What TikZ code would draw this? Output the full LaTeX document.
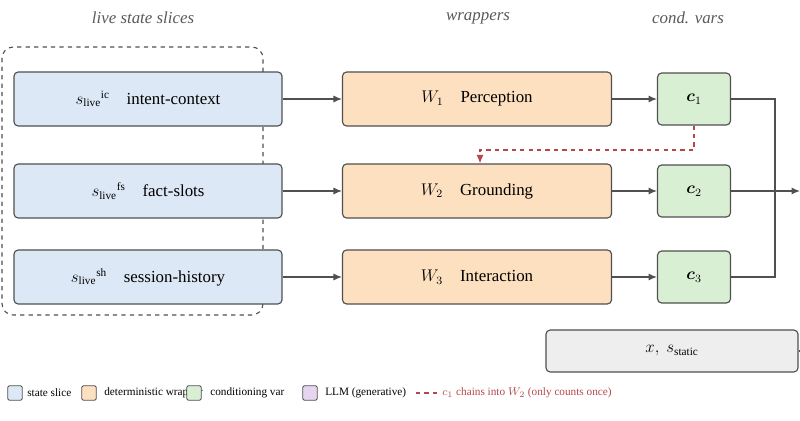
\documentclass[tikz,border=0pt]{standalone}
\usepackage{amsmath,bm}
\usepackage{fontspec}
\setmainfont{Liberation Serif}
\usetikzlibrary{arrows.meta}
\definecolor{sliceblue}{HTML}{DCE8F5}
\definecolor{wraporange}{HTML}{FCE0BF}
\definecolor{condgreen}{HTML}{D9EFD3}
\definecolor{llmpurple}{HTML}{E5D5F0}
\definecolor{staticgray}{HTML}{EEEEEE}
\definecolor{chainred}{HTML}{B5474A}
\definecolor{edgegray}{HTML}{505050}
\tikzset{
  box/.style={draw=edgegray,line width=0.8pt,rounded corners=3pt,font=\large},
  slicebox/.style={box,fill=sliceblue,minimum width=6.7cm,minimum height=1.35cm},
  wrapbox/.style={box,fill=wraporange,minimum width=6.725cm,minimum height=1.35cm},
  condbox/.style={box,fill=condgreen,minimum width=1.825cm,minimum height=1.3cm},
  flow/.style={draw=edgegray,line width=0.8pt,-{Latex[length=6pt,width=5pt]}},
  head/.style={font=\large\itshape,text=black!65},
  legsq/.style={draw=edgegray,line width=0.6pt,rounded corners=1pt,minimum size=0.36cm,inner sep=0pt},
  legtext/.style={anchor=west,font=\footnotesize,inner sep=0pt}
}
\begin{document}
\begin{tikzpicture}[x=0.025cm,y=-0.025cm]
\useasboundingbox (0,0) rectangle (800,420);
\clip (0,0) rectangle (800,420);
% column headings
\node[head] (hslice) at (143,18) {live state slices};
\node[head] (hwrap) at (478,18) {wrappers};
\node[head] (hcond) at (688,18) {cond. vars};
% live state group
\draw[dashed,draw=edgegray,line width=0.8pt,rounded corners=8pt] (2,47) rectangle (263,315);
% slices
\node[slicebox] (sic) at (148,99) {$s_{\mathrm{live}}{}^{\mathrm{ic}}$\quad intent-context};
\node[slicebox] (sfs) at (148,191) {$s_{\mathrm{live}}{}^{\mathrm{fs}}$\quad fact-slots};
\node[slicebox] (ssh) at (148,277) {$s_{\mathrm{live}}{}^{\mathrm{sh}}$\quad session-history};
% wrappers
\node[wrapbox] (wone) at (477,99) {$W_1$\quad Perception};
\node[wrapbox] (wtwo) at (477,191) {$W_2$\quad Grounding};
\node[wrapbox] (wthree) at (477,277) {$W_3$\quad Interaction};
% conditioning vars
\node[condbox] (cone) at (694,99) {$\bm{c}_1$};
\node[condbox] (ctwo) at (694,191) {$\bm{c}_2$};
\node[condbox] (cthree) at (694,277) {$\bm{c}_3$};
% static input
\node[box,fill=staticgray,minimum width=6.3cm,minimum height=1.05cm] (static) at (672,351) {$x,\ s_{\mathrm{static}}$};
\coordinate (merge) at (775,191);
\coordinate (out) at (800,191);
\coordinate (staticout) at (800,351);
\coordinate (chain) at (480,150);
% connectors
\foreach \a/\b in {sic/wone,sfs/wtwo,ssh/wthree,wone/cone,wtwo/ctwo,wthree/cthree}
  \draw[flow] (\a.east) -- (\b.west);
\draw[draw=edgegray,line width=0.8pt] (cone.east) -| (merge) |- (cthree.east);
\draw[flow] (ctwo.east) -- (out);
\draw[draw=edgegray,line width=0.8pt] (static.east) -- (staticout);
\draw[chainred,dashed,line width=1pt,-{Latex[length=6pt,width=5pt]}] (cone.south) |- (chain) -- (wtwo.north -| chain);
% legend
\node[legsq,fill=sliceblue] (lgone) at (15,393) {};
\node[legtext] (ltone) at (27,393) {state slice};
\node[legsq,fill=wraporange] (lgtwo) at (89,393) {};
\node[legtext] (lttwo) at (104,393) {deterministic wrapper};
\node[legsq,fill=condgreen] (lgthree) at (194,393) {};
\node[legtext] (ltthree) at (210,393) {conditioning var};
\node[legsq,fill=llmpurple] (lgfour) at (310,393) {};
\node[legtext] (ltfour) at (325,393) {LLM (generative)};
\coordinate (lgdash) at (416,393);
\coordinate (lgdashend) at (437,393);
\draw[chainred,dashed,line width=1pt] (lgdash) -- (lgdashend);
\node[legtext,text=chainred] (ltfive) at (442,393) {$c_1$ chains into $W_2$ (only counts once)};
\end{tikzpicture}
\end{document}
